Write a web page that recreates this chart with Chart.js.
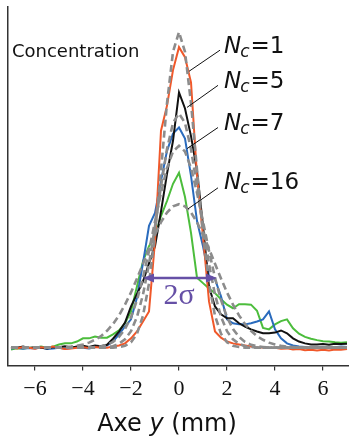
<!DOCTYPE html>
<html>
<head>
<meta charset="utf-8">
<script src="https://cdn.jsdelivr.net/npm/chart.js@4.4.1/dist/chart.umd.min.js"></script>
<style>
  html, body { margin: 0; padding: 0; background: #fff; }
  #wrap { width: 349px; height: 436px; }
</style>
</head>
<body>
<div id="wrap"><canvas id="profil"></canvas></div>
<script>
// position across the channel, mm
const axeY = [-7,-6.75,-6.5,-6.25,-6,-5.75,-5.5,-5.25,-5,-4.75,-4.5,-4.25,-4,-3.75,-3.5,-3.25,
  -3,-2.75,-2.5,-2.25,-2,-1.75,-1.5,-1.25,-1,-0.75,-0.5,-0.25,0,0.25,0.5,0.75,1,1.25,1.5,1.75,
  2,2.25,2.5,2.75,3,3.25,3.5,3.75,4,4.25,4.5,4.75,5,5.25,5.5,5.75,6,6.25,6.5,6.75,7];

// measured profiles (arbitrary units)
const nc1 = [5.1,4.8,5.2,5.0,4.7,5.1,4.9,5.3,5.0,4.6,4.8,5.0,5.1,4.9,5.2,5.0,
  5.0,5.3,5.6,6.2,7.6,9.5,12.3,15.1,34.7,65.5,72.5,82.4,88.8,86.0,79.0,52.9,36.1,17.9,9.5,7.8,
  6.7,6.2,5.9,5.6,5.3,5.0,5.1,4.9,5.0,4.7,4.8,4.5,4.6,4.3,4.4,4.2,4.4,4.2,4.5,4.4,4.6];
const nc5 = [5.2,5.0,5.3,4.9,5.1,5.0,4.8,5.2,5.1,5.4,5.0,5.3,5.5,5.2,5.6,5.4,
  5.8,7.5,9.5,12.0,16.5,20.0,23.5,28.5,33.3,43.0,53.5,62.7,76.2,71.7,64.0,54.3,39.0,22.0,16.5,14.3,
  13.2,13.2,11.8,10.9,10.1,9.5,9.0,9.0,9.2,9.8,9.0,7.6,6.7,6.2,5.9,5.9,6.0,5.8,6.1,6.0,6.1];
const nc7 = [4.8,5.0,4.7,4.9,4.8,5.1,4.6,4.8,5.0,4.7,4.9,5.2,5.0,4.8,5.1,5.3,
  5.6,6.7,8.7,10.9,12.9,19.0,28.6,39.0,42.6,51.5,59.9,64.7,66.4,63.3,52.9,40.3,33.3,24.9,24.1,19.3,
  12.9,11.8,11.5,11.5,11.8,12.3,12.9,15.1,10.1,7.6,6.2,5.6,5.3,5.2,5.0,5.1,5.2,5.0,5.1,5.3,5.2];
const nc16 = [4.5,4.8,4.8,5.0,5.0,5.3,5.0,5.3,5.9,6.2,6.2,6.7,7.6,7.6,8.1,7.8,
  7.8,8.7,9.8,11.8,15.1,22.1,29.1,33.3,36.1,41.7,45.9,50.7,53.8,47.0,37.0,24.5,23.0,21.5,20.2,18.5,
  17.0,16.0,17.1,17.1,17.0,15.3,10.5,10.1,11.5,12.4,12.9,10.4,8.9,8.0,7.5,7.1,6.8,6.7,6.5,6.4,6.5];

// gaussian fits (dashed)
const fit1 = [5.0,5.0,5.0,5.0,5.0,5.0,5.0,5.0,5.0,5.0,5.0,5.0,5.0,5.0,5.0,5.0,5.0,5.0,
  5.2,5.5,6.5,8.9,13.9,22.9,36.7,54.6,73.2,87.5,93.0,87.5,73.2,54.6,36.7,22.9,13.9,8.9,6.5,5.5,5.2,
  5.0,5.0,5.0,5.0,5.0,5.0,5.0,5.0,5.0,5.0,5.0,5.0,5.0,5.0,5.0,5.0,5.0,5.0];
const fit5 = [5.0,5.0,5.0,5.0,5.0,5.0,5.0,5.0,5.0,5.0,5.0,5.0,5.0,5.0,5.0,5.0,
  5.2,5.4,6.1,7.3,9.6,13.6,19.8,28.3,38.8,50.0,60.4,67.7,70.3,67.7,60.4,50.0,38.8,28.3,19.8,13.6,9.6,7.3,6.1,5.4,5.2,
  5.0,5.0,5.0,5.0,5.0,5.0,5.0,5.0,5.0,5.0,5.0,5.0,5.0,5.0,5.0,5.0];
const fit7 = [5.0,5.0,5.0,5.0,5.0,5.0,5.0,5.0,5.0,5.0,5.0,5.0,5.0,5.0,
  5.2,5.4,5.8,6.6,8.0,10.2,13.5,18.3,24.5,32.0,40.2,48.2,55.1,59.7,61.3,
  59.7,55.1,48.2,40.2,32.0,24.5,18.3,13.5,10.2,8.0,6.6,5.8,5.4,5.2,
  5.0,5.0,5.0,5.0,5.0,5.0,5.0,5.0,5.0,5.0,5.0,5.0,5.0,5.0];
const fit16 = [5.0,5.0,5.0,5.0,5.0,5.0,5.0,5.0,
  5.1,5.2,5.3,5.5,5.9,6.4,7.2,8.2,9.7,11.6,14.0,17.0,20.4,24.3,28.4,32.6,36.5,40.0,42.7,44.4,45.0,
  44.4,42.7,40.0,36.5,32.6,28.4,24.3,20.4,17.0,14.0,11.6,9.7,8.2,7.2,6.4,5.9,5.5,5.3,5.2,5.1,
  5.0,5.0,5.0,5.0,5.0,5.0,5.0,5.0];

const tickVals = [-6, -4, -2, 0, 2, 4, 6];
const ncValues = ['1', '5', '7', '16'];

function pts(vals) {
  return vals.map((v, i) => ({ x: axeY[i], y: v }));
}

function measured(vals, color, order) {
  return { data: pts(vals), borderColor: color, borderWidth: 2, pointRadius: 0, tension: 0, order: order };
}

function fitted(vals) {
  return { data: pts(vals), borderColor: '#8c8c8c', borderWidth: 2.6, borderDash: [7, 4],
    pointRadius: 0, tension: 0, order: 0 };
}

// label anchors in data units
const labelX = 1.875;
const labelBase = [87.1, 77.3, 65.8, 49.3];
const pointers = [
  [1.708, 87.96, 0.417, 82.07],
  [1.625, 78.15, 0.333, 71.99],
  [1.625, 66.39, 0.333, 60.5],
  [1.625, 49.58, 0.375, 43.7]
];

const annotations = {
  id: 'annotations',
  afterDraw(chart) {
    const { ctx, scales: { x, y }, chartArea } = chart;
    ctx.save();
    ctx.textBaseline = 'alphabetic';

    ctx.fillStyle = '#111';
    ctx.font = '18px "DejaVu Sans"';
    ctx.textAlign = 'left';
    ctx.fillText('Concentration', x.getPixelForValue(-6.96), y.getPixelForValue(86));

    // N_c labels and pointer lines
    ctx.strokeStyle = '#111';
    ctx.lineWidth = 1;
    pointers.forEach(p => {
      ctx.beginPath();
      ctx.moveTo(x.getPixelForValue(p[0]), y.getPixelForValue(p[1]));
      ctx.lineTo(x.getPixelForValue(p[2]), y.getPixelForValue(p[3]));
      ctx.stroke();
    });
    ncValues.forEach((n, i) => {
      let px = x.getPixelForValue(labelX);
      const py = y.getPixelForValue(labelBase[i]);
      ctx.font = 'italic 23px "DejaVu Sans"';
      ctx.fillText('N', px, py);
      px += ctx.measureText('N').width;
      ctx.font = 'italic 17px "DejaVu Sans"';
      ctx.fillText('c', px - 1, py + 4);
      px += ctx.measureText('c').width;
      ctx.font = '23px "DejaVu Sans"';
      ctx.fillText('=' + n, px, py);
    });

    // 2 sigma arrow
    const ay = y.getPixelForValue(24.4);
    const ax0 = x.getPixelForValue(-1.5);
    const ax1 = x.getPixelForValue(1.58);
    ctx.strokeStyle = '#6650a6';
    ctx.fillStyle = '#6650a6';
    ctx.lineWidth = 2.5;
    ctx.beginPath();
    ctx.moveTo(ax0 + 6, ay);
    ctx.lineTo(ax1 - 6, ay);
    ctx.stroke();
    ctx.beginPath();
    ctx.moveTo(ax0, ay); ctx.lineTo(ax0 + 11, ay - 4.5); ctx.lineTo(ax0 + 11, ay + 4.5); ctx.closePath();
    ctx.moveTo(ax1, ay); ctx.lineTo(ax1 - 11, ay - 4.5); ctx.lineTo(ax1 - 11, ay + 4.5); ctx.closePath();
    ctx.fill();
    ctx.font = '30px "Liberation Serif"';
    ctx.textAlign = 'center';
    ctx.fillText('2σ', x.getPixelForValue(0), y.getPixelForValue(17.1));

    // axis title with italic y
    ctx.fillStyle = '#111';
    ctx.textAlign = 'left';
    const parts = [['Axe ', '24px "DejaVu Sans"'], ['y', 'italic 24px "DejaVu Sans"'], [' (mm)', '24px "DejaVu Sans"']];
    let total = 0;
    parts.forEach(p => { ctx.font = p[1]; total += ctx.measureText(p[0]).width; });
    let tx = x.getPixelForValue(-0.5) - total / 2;
    const ty = chartArea.bottom + 65;
    parts.forEach(p => { ctx.font = p[1]; ctx.fillText(p[0], tx, ty); tx += ctx.measureText(p[0]).width; });
    ctx.restore();
  }
};

new Chart(document.getElementById('profil'), {
  type: 'line',
  data: {
    datasets: [
      fitted(fit1), fitted(fit5), fitted(fit7), fitted(fit16),
      measured(nc1, '#f0582a', 1),
      measured(nc5, '#111111', 2),
      measured(nc7, '#2a6bbd', 3),
      measured(nc16, '#4cbd3c', 4)
    ]
  },
  options: {
    responsive: true,
    maintainAspectRatio: false,
    animation: false,
    layout: { padding: { left: 8, right: 0, top: 7, bottom: 29 } },
    plugins: { legend: { display: false }, tooltip: { enabled: false } },
    scales: {
      x: {
        type: 'linear',
        min: -7.125,
        max: 7.083,
        afterBuildTicks: s => { s.ticks = tickVals.map(v => ({ value: v })); },
        border: { display: true, color: '#333', width: 1.5 },
        grid: { drawOnChartArea: false, drawTicks: true, tickLength: 5, color: '#333', lineWidth: 1.2 },
        ticks: {
          color: '#111',
          padding: 5,
          maxRotation: 0,
          font: { family: 'Liberation Serif', size: 22 },
          callback: v => (v < 0 ? '\u2212' + Math.abs(v) : String(v))
        }
      },
      y: {
        type: 'linear',
        min: 0,
        max: 100,
        border: { display: true, color: '#333', width: 1.5 },
        grid: { display: false, drawTicks: false },
        ticks: { display: false }
      }
    }
  },
  plugins: [annotations]
});
</script>
</body>
</html>
